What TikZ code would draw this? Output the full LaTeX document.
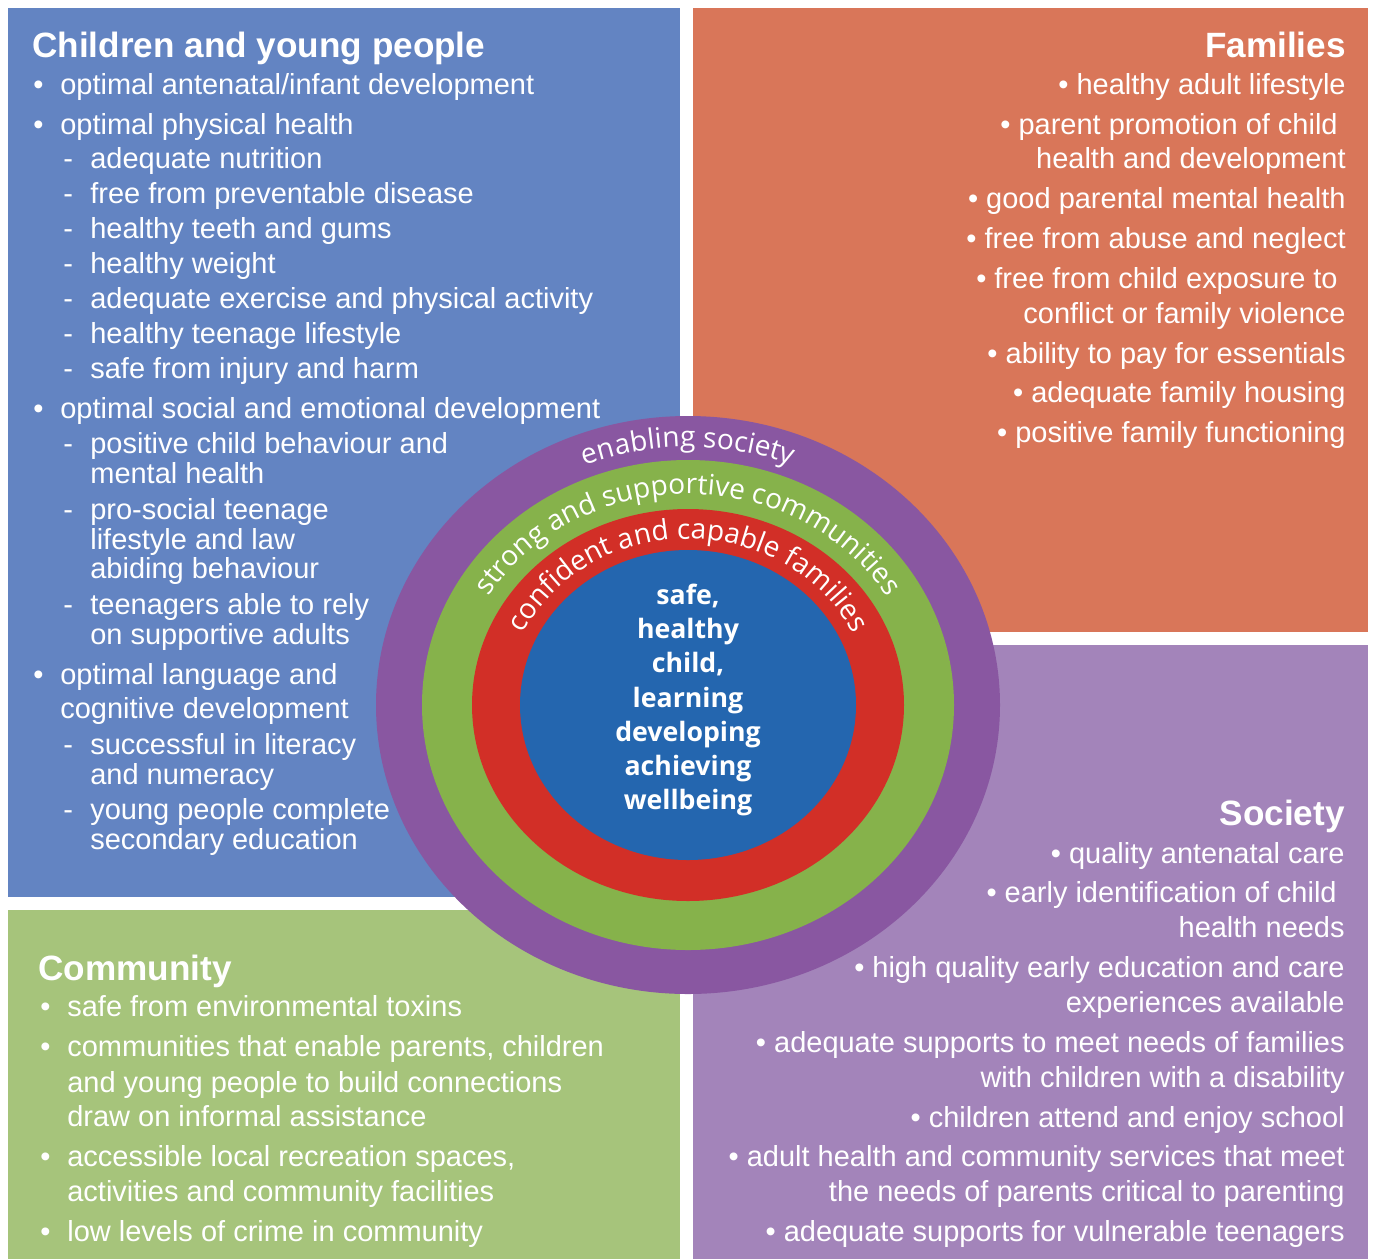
\documentclass[tikz,border=0pt]{standalone}
\usepackage{fontspec}
\setmainfont{Liberation Sans}
\newfontfamily\ringfam{Open Sans}
\usetikzlibrary{decorations.text}

\definecolor{cypblue}{HTML}{6384C2}
\definecolor{famorange}{HTML}{D97659}
\definecolor{comgreen}{HTML}{A6C47B}
\definecolor{socpurple}{HTML}{A384BA}
\definecolor{ringpurple}{HTML}{8957A1}
\definecolor{ringgreen}{HTML}{86B24B}
\definecolor{ringred}{HTML}{D22F27}
\definecolor{hubblue}{HTML}{2466AF}

\newcommand\bodyfont{\fontsize{16.5}{20}\selectfont}
\newcommand\headfont{\bfseries\fontsize{20}{24}\selectfont}
\newcommand\ringfont{\ringfam\fontsize{16}{19}\selectfont\color{white}}
\newcommand\hubfont{\ringfam\bfseries\fontsize{15.2}{19.5}\selectfont}

\begin{document}
\begin{tikzpicture}[x=0.02cm, y=0.02cm,
    body/.style={anchor=base west, inner sep=0pt, text=white, font=\bodyfont},
    bodyr/.style={anchor=base east, inner sep=0pt, text=white, font=\bodyfont},
    head/.style={anchor=base west, inner sep=0pt, text=white, font=\headfont},
    headr/.style={anchor=base east, inner sep=0pt, text=white, font=\headfont},
    ringtext/.style={decorate, decoration={text along path, text align=center,
        text={|\ringfont|#1}}}
  ]
  \useasboundingbox (0,0) rectangle (1373,-1259);

  % four panels
  \fill[cypblue] (8,-8) rectangle (680,-897);
  \fill[famorange] (693,-8) rectangle (1368,-632);
  \fill[comgreen] (8,-910) rectangle (680,-1259);
  \fill[socpurple] (693,-645) rectangle (1368,-1259);

  % children and young people
  \node[head] (cyp) at (32,-57) {Children and young people};
  \foreach \y/\t [count=\i] in {94/{optimal antenatal/infant development},
      134/{optimal physical health}, 418/{optimal social and emotional development},
      684/{optimal language and}, 718/{cognitive development}}
    \node[body] (cyp-a\i) at (60,-\y) {\t};
  \foreach \y/\t [count=\i] in {168/{adequate nutrition}, 203/{free from preventable disease},
      238/{healthy teeth and gums}, 273/{healthy weight},
      308/{adequate exercise and physical activity}, 343/{healthy teenage lifestyle},
      378/{safe from injury and harm}, 453/{positive child behaviour and},
      483/{mental health}, 519/{pro-social teenage}, 549/{lifestyle and law},
      578/{abiding behaviour}, 614/{teenagers able to rely}, 644/{on supportive adults},
      754/{successful in literacy}, 784/{and numeracy}, 819/{young people complete},
      849/{secondary education}}
    \node[body] (cyp-b\i) at (90,-\y) {\t};
  \foreach \y [count=\i] in {94,134,418,684}
    \node[body] (cyp-dot\i) at (33,-\y) {\textbullet};
  \foreach \y [count=\i] in {168,203,238,273,308,343,378,453,519,614,754,819}
    \node[body] (cyp-dash\i) at (63,-\y) {-};

  % families
  \node[headr] (fam) at (1346,-57) {Families};
  \foreach \y/\x/\t [count=\i] in {94/1346/{\textbullet\ healthy adult lifestyle},
      134/1338/{\textbullet\ parent promotion of child},
      168/1346/{health and development},
      208/1346/{\textbullet\ good parental mental health},
      248/1346/{\textbullet\ free from abuse and neglect},
      288/1338/{\textbullet\ free from child exposure to},
      323/1346/{conflict or family violence},
      363/1346/{\textbullet\ ability to pay for essentials},
      402/1346/{\textbullet\ adequate family housing},
      442/1346/{\textbullet\ positive family functioning}}
    \node[bodyr] (fam-\i) at (\x,-\y) {\t};

  % society
  \node[headr] (soc) at (1345,-825) {Society};
  \foreach \y/\x/\t [count=\i] in {863/1345/{\textbullet\ quality antenatal care},
      902/1337/{\textbullet\ early identification of child},
      937/1345/{health needs},
      977/1345/{\textbullet\ high quality early education and care},
      1012/1345/{experiences available},
      1052/1345/{\textbullet\ adequate supports to meet needs of families},
      1087/1345/{with children with a disability},
      1127/1345/{\textbullet\ children attend and enjoy school},
      1166/1345/{\textbullet\ adult health and community services that meet},
      1201/1345/{the needs of parents critical to parenting},
      1241/1345/{\textbullet\ adequate supports for vulnerable teenagers}}
    \node[bodyr] (soc-\i) at (\x,-\y) {\t};

  % community
  \node[head] (com) at (38,-980) {Community};
  \foreach \y/\t [count=\i] in {1016/{safe from environmental toxins},
      1056/{communities that enable parents, children},
      1092/{and young people to build connections},
      1126/{draw on informal assistance},
      1166/{accessible local recreation spaces,},
      1201/{activities and community facilities},
      1241/{low levels of crime in community}}
    \node[body] (com-\i) at (67,-\y) {\t};
  \foreach \y [count=\i] in {1016,1056,1166,1241}
    \node[body] (com-dot\i) at (40,-\y) {\textbullet};

  % rings
  \coordinate (hub) at (688,-705);
  \fill[ringpurple] (hub) ellipse[x radius=312, y radius=289];
  \fill[ringgreen] (hub) ellipse[x radius=266, y radius=245];
  \fill[ringred] (hub) ellipse[x radius=216, y radius=196];
  \fill[hubblue] (hub) ellipse[x radius=168, y radius=155];

  \path[ringtext={enabling society}] (hub) ++(150:280 and 258)
    arc[start angle=150, end angle=30, x radius=280, y radius=258];
  \path[ringtext={strong and supportive communities}] (hub) ++(170:232 and 211)
    arc[start angle=170, end angle=10, x radius=232, y radius=211];
  \path[ringtext={confident and capable families}] (hub) ++(175:183 and 166)
    arc[start angle=175, end angle=5, x radius=183, y radius=166];

  \node[align=center, text=white, font=\hubfont, inner sep=0pt] (hubtext) at (688,-700)
    {safe,\\healthy\\child,\\learning\\developing\\achieving\\wellbeing};
\end{tikzpicture}
\end{document}
